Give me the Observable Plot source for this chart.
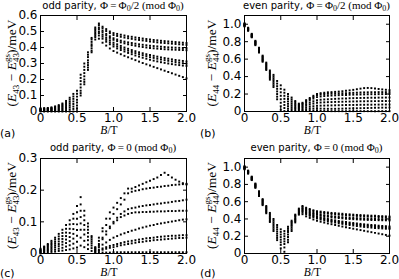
<!DOCTYPE html>
<html><head><meta charset="utf-8">
<script src="https://cdn.jsdelivr.net/npm/d3@7"></script>
<script src="https://cdn.jsdelivr.net/npm/@observablehq/plot@0.6"></script>
<style>
body{margin:0;background:#fff}
#fig{position:relative;width:399px;height:279px;overflow:hidden;background:#fff}
#fig svg{position:absolute}
</style></head><body><div id="fig"></div>
<script>
// magnetic field values (T)
const B = [0,0.05,0.1,0.15,0.2,0.25,0.3,0.35,0.4,0.45,0.5,0.55,0.6,0.65,0.7,0.75,0.8,0.85,0.9,0.95,1,1.05,1.1,1.15,1.2,1.25,1.3,1.35,1.4,1.45,1.5,1.55,1.6,1.65,1.7,1.75,1.8,1.85,1.9,1.95,2];

// (a) odd parity, Phi = Phi0/2 : E43 - E43gs (meV), 8 levels
const levelsA = [
 [0.02,0.021,0.022,0.026,0.032,0.04,0.05,0.066,0.086,0.11,0.13,0.23,0.30,0.37,0.46,0.525,0.55,0.53,0.515,0.50,0.49,0.485,0.48,0.475,0.47,0.467,0.463,0.46,0.456,0.453,0.45,0.447,0.445,0.442,0.44,0.438,0.436,0.434,0.432,0.43,0.428],
 [0.017,0.018,0.019,0.022,0.027,0.034,0.043,0.057,0.074,0.094,0.111,0.21,0.28,0.355,0.45,0.515,0.54,0.52,0.503,0.49,0.478,0.472,0.467,0.462,0.458,0.454,0.45,0.447,0.444,0.441,0.438,0.435,0.432,0.43,0.428,0.426,0.424,0.422,0.42,0.418,0.416],
 [0.014,0.015,0.016,0.018,0.022,0.029,0.036,0.047,0.061,0.079,0.093,0.19,0.26,0.34,0.435,0.505,0.525,0.505,0.485,0.47,0.458,0.45,0.443,0.437,0.432,0.428,0.424,0.42,0.417,0.414,0.411,0.409,0.407,0.405,0.403,0.401,0.40,0.399,0.398,0.397,0.396],
 [0.011,0.012,0.013,0.015,0.018,0.023,0.029,0.038,0.049,0.063,0.074,0.17,0.24,0.32,0.42,0.495,0.515,0.495,0.475,0.46,0.448,0.44,0.432,0.426,0.42,0.415,0.411,0.407,0.403,0.40,0.397,0.395,0.393,0.391,0.389,0.388,0.387,0.386,0.385,0.384,0.383],
 [0.009,0.009,0.009,0.011,0.013,0.017,0.021,0.028,0.037,0.047,0.056,0.15,0.22,0.305,0.41,0.485,0.50,0.48,0.46,0.445,0.43,0.42,0.41,0.40,0.392,0.384,0.377,0.37,0.364,0.358,0.353,0.348,0.343,0.338,0.334,0.33,0.326,0.322,0.319,0.316,0.313],
 [0.006,0.006,0.006,0.007,0.009,0.011,0.014,0.019,0.025,0.031,0.037,0.13,0.20,0.29,0.395,0.475,0.49,0.468,0.448,0.432,0.418,0.407,0.397,0.388,0.38,0.372,0.365,0.358,0.352,0.346,0.34,0.335,0.33,0.325,0.321,0.317,0.313,0.309,0.305,0.302,0.299],
 [0.003,0.003,0.003,0.004,0.004,0.006,0.007,0.009,0.012,0.016,0.019,0.115,0.185,0.275,0.38,0.465,0.475,0.455,0.436,0.42,0.406,0.394,0.384,0.375,0.366,0.358,0.35,0.343,0.336,0.33,0.324,0.318,0.313,0.308,0.304,0.30,0.296,0.293,0.29,0.287,0.285],
 [0,0,0,0,0,0,0,0,0,0,0,0.1,0.17,0.26,0.37,0.45,0.455,0.43,0.412,0.394,0.378,0.368,0.358,0.348,0.339,0.33,0.321,0.312,0.303,0.295,0.287,0.279,0.271,0.263,0.255,0.247,0.239,0.231,0.223,0.215,0.207]
];

// (b) even parity, Phi = Phi0/2 : E44 - E44gs (meV)
const levelsB = [
 [1.01,0.96,0.89,0.81,0.73,0.64,0.56,0.47,0.42,0.35,0.30,0.25,0.20,0.16,0.12,0.09,0.10,0.13,0.155,0.18,0.20,0.21,0.215,0.22,0.222,0.225,0.228,0.232,0.237,0.242,0.248,0.255,0.262,0.268,0.27,0.268,0.263,0.258,0.253,0.249,0.245],
 [1.005,0.955,0.884,0.803,0.722,0.63,0.548,0.455,0.40,0.32,0.26,0.215,0.172,0.138,0.104,0.079,0.09,0.118,0.142,0.165,0.185,0.195,0.2,0.203,0.205,0.206,0.207,0.209,0.21,0.212,0.214,0.216,0.218,0.219,0.22,0.221,0.222,0.222,0.222,0.222,0.222],
 [1.0,0.95,0.878,0.796,0.714,0.62,0.536,0.44,0.38,0.29,0.22,0.18,0.144,0.116,0.088,0.068,0.08,0.105,0.128,0.148,0.165,0.172,0.177,0.18,0.183,0.185,0.187,0.189,0.19,0.192,0.193,0.194,0.195,0.196,0.197,0.198,0.198,0.199,0.199,0.2,0.2],
 [0.995,0.945,0.872,0.789,0.706,0.61,0.524,0.425,0.36,0.26,0.18,0.145,0.116,0.094,0.072,0.057,0.065,0.085,0.102,0.117,0.13,0.135,0.138,0.14,0.142,0.145,0.147,0.149,0.15,0.152,0.153,0.154,0.155,0.156,0.157,0.158,0.158,0.159,0.159,0.16,0.16],
 [0.99,0.94,0.866,0.782,0.698,0.60,0.512,0.41,0.34,0.23,0.14,0.11,0.088,0.072,0.056,0.046,0.05,0.067,0.08,0.091,0.10,0.103,0.105,0.107,0.108,0.11,0.111,0.112,0.113,0.114,0.115,0.116,0.117,0.117,0.118,0.118,0.119,0.119,0.12,0.12,0.12],
 [0.985,0.935,0.86,0.775,0.69,0.59,0.50,0.395,0.32,0.20,0.10,0.075,0.06,0.05,0.04,0.035,0.035,0.046,0.054,0.06,0.065,0.067,0.068,0.069,0.07,0.071,0.072,0.073,0.074,0.075,0.075,0.076,0.077,0.077,0.078,0.078,0.079,0.079,0.08,0.08,0.08],
 [0.98,0.93,0.855,0.768,0.682,0.58,0.488,0.38,0.30,0.17,0.06,0.04,0.032,0.028,0.024,0.024,0.02,0.026,0.03,0.033,0.035,0.033,0.032,0.031,0.031,0.031,0.032,0.033,0.034,0.035,0.036,0.037,0.038,0.039,0.04,0.041,0.042,0.043,0.044,0.044,0.045],
 [0.975,0.925,0.85,0.76,0.675,0.57,0.476,0.365,0.28,0.14,0.02,0.005,0.005,0.006,0.008,0.01,0.008,0.008,0.008,0.008,0.008,0.006,0.005,0.005,0.004,0.004,0.004,0.004,0.004,0.004,0.004,0.004,0.004,0.004,0.004,0.004,0.004,0.004,0.004,0.004,0.004]
];

// (c) odd parity, Phi = 0 : E43 - E43gs (meV)
const levelsC = [
 [0.015,0.022,0.03,0.04,0.05,0.062,0.075,0.09,0.105,0.125,0.15,0.178,0.135,0.095,0.055,0.02,0.05,0.08,0.11,0.13,0.145,0.16,0.175,0.19,0.205,0.205,0.21,0.215,0.22,0.225,0.23,0.235,0.24,0.248,0.255,0.248,0.24,0.233,0.227,0.222,0.218],
 [0.012,0.02,0.027,0.035,0.044,0.054,0.065,0.078,0.092,0.11,0.13,0.155,0.12,0.085,0.05,0.018,0.04,0.07,0.09,0.11,0.125,0.14,0.155,0.17,0.19,0.195,0.198,0.2,0.203,0.205,0.207,0.208,0.21,0.211,0.213,0.214,0.216,0.217,0.218,0.219,0.22],
 [0.01,0.017,0.023,0.03,0.037,0.046,0.055,0.066,0.078,0.093,0.11,0.135,0.105,0.075,0.044,0.015,0.03,0.05,0.07,0.085,0.1,0.113,0.125,0.133,0.14,0.143,0.145,0.148,0.15,0.152,0.153,0.155,0.157,0.158,0.16,0.161,0.163,0.165,0.166,0.168,0.17],
 [0.008,0.014,0.019,0.025,0.031,0.038,0.046,0.055,0.065,0.077,0.092,0.115,0.09,0.065,0.038,0.013,0.025,0.045,0.06,0.08,0.095,0.105,0.115,0.12,0.125,0.128,0.13,0.13,0.131,0.131,0.132,0.132,0.133,0.133,0.133,0.134,0.134,0.134,0.135,0.135,0.135],
 [0.006,0.011,0.015,0.02,0.025,0.03,0.037,0.044,0.052,0.062,0.074,0.095,0.075,0.053,0.032,0.01,0.02,0.028,0.035,0.043,0.05,0.055,0.06,0.064,0.068,0.072,0.075,0.079,0.082,0.085,0.088,0.09,0.093,0.095,0.097,0.099,0.101,0.103,0.105,0.107,0.108],
 [0.004,0.008,0.011,0.015,0.019,0.023,0.028,0.033,0.039,0.047,0.056,0.075,0.06,0.042,0.025,0.008,0.012,0.016,0.02,0.024,0.027,0.03,0.033,0.036,0.038,0.04,0.042,0.044,0.046,0.048,0.049,0.05,0.052,0.053,0.054,0.055,0.056,0.056,0.057,0.058,0.058],
 [0.002,0.005,0.007,0.01,0.012,0.015,0.018,0.022,0.026,0.031,0.037,0.05,0.04,0.028,0.017,0.005,0.008,0.012,0.015,0.018,0.02,0.023,0.026,0.028,0.03,0.032,0.034,0.036,0.037,0.039,0.04,0.042,0.043,0.044,0.045,0.046,0.047,0.048,0.049,0.049,0.05],
 [0,0.002,0.003,0.005,0.006,0.008,0.009,0.011,0.013,0.016,0.019,0.025,0.02,0.014,0.008,0.002,0.002,0.003,0.003,0.003,0.004,0.004,0.004,0.004,0.004,0.004,0.004,0.004,0.004,0.004,0.004,0.004,0.004,0.004,0.004,0.004,0.004,0.004,0.004,0.004,0.004]
];

// (d) even parity, Phi = 0 : E44 - E44gs (meV)
const levelsD = [
 [1.01,0.96,0.89,0.81,0.72,0.63,0.55,0.47,0.40,0.33,0.28,0.26,0.31,0.38,0.45,0.52,0.55,0.53,0.515,0.50,0.49,0.485,0.48,0.475,0.47,0.467,0.463,0.46,0.456,0.453,0.45,0.447,0.445,0.442,0.44,0.438,0.436,0.434,0.432,0.43,0.428],
 [1.005,0.955,0.884,0.803,0.712,0.62,0.538,0.455,0.38,0.305,0.25,0.23,0.29,0.365,0.44,0.51,0.54,0.52,0.503,0.49,0.478,0.472,0.467,0.462,0.458,0.454,0.45,0.447,0.444,0.441,0.438,0.435,0.432,0.43,0.428,0.426,0.424,0.422,0.42,0.418,0.416],
 [1.0,0.95,0.878,0.796,0.704,0.61,0.526,0.44,0.36,0.28,0.22,0.20,0.27,0.35,0.43,0.50,0.525,0.505,0.485,0.47,0.458,0.45,0.443,0.437,0.432,0.428,0.424,0.42,0.417,0.414,0.411,0.409,0.407,0.405,0.403,0.401,0.40,0.399,0.398,0.397,0.396],
 [0.995,0.945,0.872,0.789,0.696,0.60,0.514,0.425,0.34,0.255,0.19,0.17,0.25,0.335,0.415,0.49,0.515,0.495,0.475,0.46,0.448,0.44,0.432,0.426,0.42,0.415,0.411,0.407,0.403,0.40,0.397,0.395,0.393,0.391,0.389,0.388,0.387,0.386,0.385,0.384,0.383],
 [0.99,0.94,0.866,0.782,0.688,0.59,0.502,0.41,0.32,0.23,0.16,0.14,0.22,0.32,0.40,0.48,0.50,0.48,0.46,0.445,0.43,0.42,0.41,0.40,0.392,0.384,0.377,0.37,0.364,0.358,0.353,0.348,0.343,0.338,0.334,0.33,0.326,0.322,0.319,0.316,0.313],
 [0.985,0.935,0.86,0.775,0.68,0.58,0.49,0.395,0.30,0.205,0.13,0.11,0.19,0.30,0.39,0.47,0.49,0.468,0.448,0.432,0.418,0.407,0.397,0.388,0.38,0.372,0.365,0.358,0.352,0.346,0.34,0.335,0.33,0.325,0.321,0.317,0.313,0.309,0.305,0.302,0.299],
 [0.98,0.93,0.855,0.768,0.672,0.57,0.478,0.38,0.28,0.18,0.10,0.07,0.16,0.28,0.375,0.46,0.475,0.455,0.436,0.42,0.406,0.394,0.384,0.375,0.366,0.358,0.35,0.343,0.336,0.33,0.324,0.318,0.313,0.308,0.304,0.30,0.296,0.293,0.29,0.287,0.285],
 [0.975,0.925,0.85,0.76,0.665,0.56,0.466,0.365,0.26,0.155,0.06,0.02,0.13,0.26,0.36,0.45,0.455,0.43,0.412,0.394,0.378,0.368,0.358,0.348,0.339,0.33,0.321,0.312,0.303,0.295,0.287,0.279,0.271,0.263,0.255,0.247,0.239,0.231,0.223,0.215,0.207]
];

// tick values
const xTicks = [0, 0.5, 1.0, 1.5, 2.0];
const yTicksA = [0, 0.1, 0.2, 0.3, 0.4, 0.5, 0.6];
const yTicksB = [0, 0.2, 0.4, 0.6, 0.8, 1.0];
const yTicksC = [0, 0.1, 0.2, 0.3];
const yTicksD = [0, 0.2, 0.4, 0.6, 0.8, 1.0];

// labels
const letters = ["(a)", "(b)", "(c)", "(d)"];

const fmt = d => d === 0 ? "0" : d.toFixed(1);
const SERIF = "'Liberation Serif', 'DejaVu Serif', serif";
const SANS = "'DejaVu Sans', sans-serif";
const TH = "\u2009";

function toRows(levels) {
  const rows = [];
  levels.forEach((lv, k) => lv.forEach((v, i) => { if (v != null) rows.push({B: B[i], E: v, level: k}); }));
  return rows;
}

function panel(cfg) {
  const svg = Plot.plot({
    width: cfg.w, height: cfg.h,
    marginLeft: cfg.ml, marginRight: cfg.mr, marginTop: cfg.mt, marginBottom: cfg.mb,
    x: {domain: [0, 2]},
    y: {domain: cfg.yDomain},
    style: {fontFamily: SANS, fontSize: "12px", color: "black", background: "transparent", overflow: "visible"},
    marks: [
      Plot.dot(toRows(cfg.levels), {x: "B", y: "E", symbol: "square", r: 1.1, fill: "black"}),
      Plot.frame({stroke: "black"}),
      Plot.axisX(xTicks, {anchor: "bottom", tickSize: 0, tickPadding: 2, tickFormat: fmt, label: null}),
      Plot.axisX(xTicks, {anchor: "bottom", tickSize: 4, dy: -4, tickFormat: () => "", label: null}),
      Plot.axisX(xTicks, {anchor: "top", tickSize: 4, dy: 4, tickFormat: () => "", label: null}),
      Plot.axisY(cfg.yTicks, {anchor: "left", tickSize: 0, tickPadding: 3, tickFormat: fmt, label: null}),
      Plot.axisY(cfg.yTicks, {anchor: "left", tickSize: 4, dx: 4, tickFormat: () => "", label: null}),
      Plot.axisY(cfg.yTicks, {anchor: "right", tickSize: 4, dx: -4, tickFormat: () => "", label: null})
    ]
  });
  svg.style.left = cfg.left + "px";
  svg.style.top = cfg.top + "px";
  document.getElementById("fig").appendChild(svg);
  const s = d3.select(svg);
  const cx = (cfg.ml + cfg.w - cfg.mr) / 2;
  const cy = (cfg.mt + cfg.h - cfg.mb) / 2;

  // title
  const t = s.append("text").attr("x", cx).attr("y", cfg.titleY).attr("text-anchor", "middle")
    .attr("font-size", 10).attr("font-family", SANS).attr("fill", "black");
  t.append("tspan").text(cfg.parity + " parity, ");
  t.append("tspan").attr("font-family", SERIF).attr("font-size", 11).text("Φ" + TH + "=" + TH);
  if (cfg.half) {
    t.append("tspan").attr("font-family", SERIF).attr("font-size", 11).text("Φ");
    t.append("tspan").attr("font-family", SERIF).attr("font-size", 8).attr("dy", 2).text("0");
    t.append("tspan").attr("font-family", SERIF).attr("font-size", 11).attr("dy", -2).text("/2 (mod Φ");
  } else {
    t.append("tspan").attr("font-family", SERIF).attr("font-size", 11).text("0 (mod Φ");
  }
  t.append("tspan").attr("font-family", SERIF).attr("font-size", 8).attr("dy", 2).text("0");
  t.append("tspan").attr("font-family", SERIF).attr("font-size", 11).attr("dy", -2).text(")");

  // y label
  const yl = s.append("text").attr("x", 0).attr("y", 0).attr("text-anchor", "middle")
    .attr("transform", `translate(${cfg.ylx},${cy}) rotate(-90)`)
    .attr("font-size", 13.5).attr("font-family", SERIF).attr("fill", "black");
  yl.append("tspan").text("(");
  yl.append("tspan").attr("font-style", "italic").text("E");
  yl.append("tspan").attr("font-size", 9).attr("dy", 3).text(cfg.sub);
  yl.append("tspan").attr("dy", -3).text(" − ");
  yl.append("tspan").attr("font-style", "italic").text("E");
  yl.append("tspan").attr("font-size", 9).attr("dy", 3).text(cfg.sub);
  yl.append("tspan").attr("font-size", 9).attr("dx", -9).attr("dy", -9).text("gs");
  yl.append("tspan").attr("dy", 6).text(")/meV");

  // x label
  const xl = s.append("text").attr("x", cx - 4).attr("y", cfg.xlY).attr("text-anchor", "middle")
    .attr("font-size", 11.5).attr("font-family", SERIF).attr("fill", "black");
  xl.append("tspan").attr("font-style", "italic").text("B");
  xl.append("tspan").text("/T");

  // panel letter
  s.append("text").attr("x", 0).attr("y", cfg.letterY).attr("font-size", 11)
    .attr("text-anchor", "start")
    .attr("font-family", SANS).attr("fill", "black").text(cfg.letter);
}

panel({levels: levelsA, yDomain: [0, 0.6], yTicks: yTicksA, left: 0, top: 0, w: 200, h: 140,
  ml: 40, mr: 14, mt: 15, mb: 29, parity: "odd", half: true, sub: "43", letter: letters[0],
  titleY: 9, ylx: 16, xlY: 134, letterY: 137});
panel({levels: levelsB, yDomain: [0, 1.1], yTicks: yTicksB, left: 200, top: 0, w: 199, h: 140,
  ml: 44, mr: 10, mt: 15, mb: 29, parity: "even", half: true, sub: "44", letter: letters[1],
  titleY: 9, ylx: 16, xlY: 134, letterY: 137});
panel({levels: levelsC, yDomain: [0, 0.3], yTicks: yTicksC, left: 0, top: 140, w: 200, h: 139,
  ml: 40, mr: 14, mt: 18, mb: 26, parity: "odd", half: false, sub: "43", letter: letters[2],
  titleY: 11, ylx: 16, xlY: 136, letterY: 137});
panel({levels: levelsD, yDomain: [0, 1.1], yTicks: yTicksD, left: 200, top: 140, w: 199, h: 139,
  ml: 44, mr: 10, mt: 18, mb: 26, parity: "even", half: false, sub: "44", letter: letters[3],
  titleY: 11, ylx: 16, xlY: 136, letterY: 137});
</script></body></html>
